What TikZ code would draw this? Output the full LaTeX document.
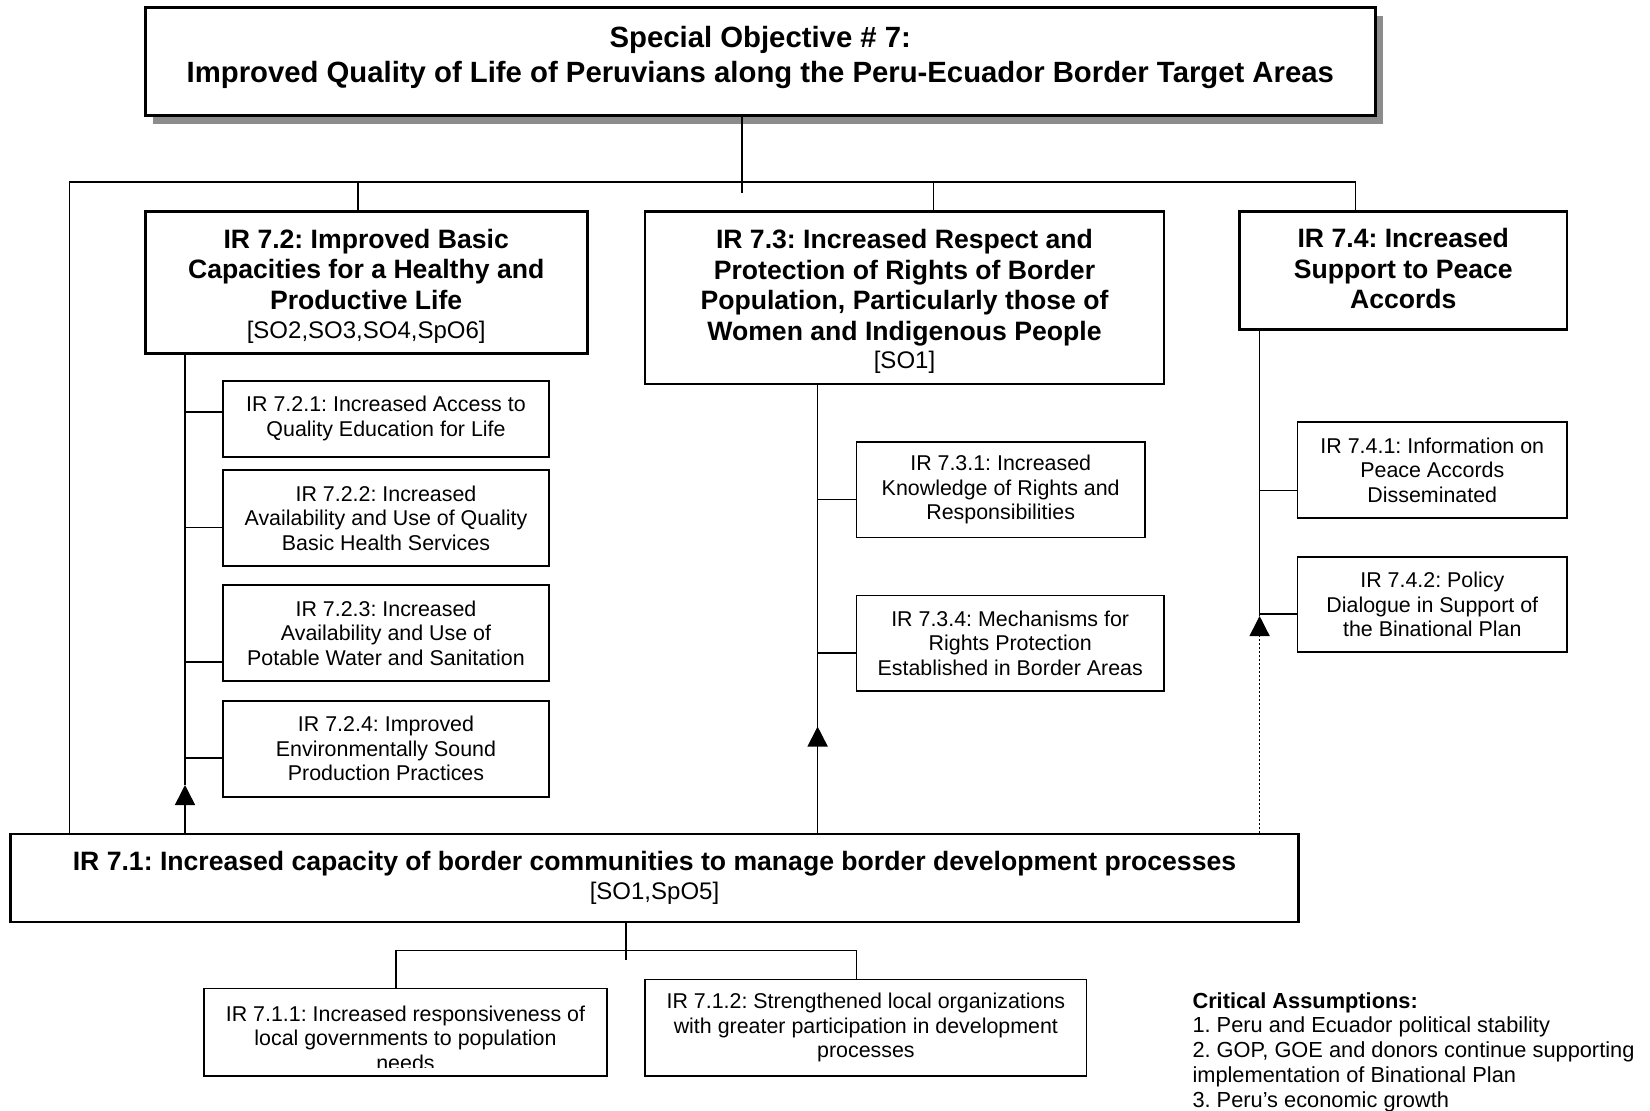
\documentclass[tikz,border=0pt]{standalone}
\usepackage{fontspec}
\setmainfont{Liberation Sans}
\usetikzlibrary{arrows.meta,shadows}
\frenchspacing

% type sizes used in the chart
\newcommand\titlefnt{\fontsize{29.3}{35}\selectfont\bfseries}
\newcommand\headfnt{\fontsize{26.6}{30.5}\selectfont\bfseries}
\newcommand\tagfnt{\fontsize{24}{28.5}\selectfont\mdseries}
\newcommand\subfnt{\fontsize{21.4}{24.5}\selectfont}
% invisible struts that move a centred text block down or up a little
\newcommand\lowerby[1]{\rule{0pt}{\dimexpr19pt+#1\relax}}
\newcommand\raiseby[1]{\rule[-#1]{0pt}{0pt}}

\begin{document}
\begin{tikzpicture}[x=1pt,y=-1pt,
  mainbox/.style={draw, line width=2.6pt, inner sep=0pt, align=center, font=\headfnt},
  subbox/.style={draw, line width=1.7pt, inner sep=0pt, align=center, font=\subfnt},
  link/.style={line width=1.6pt},
  uparrow/.style={line width=1.6pt, -{Triangle[width=20pt,length=20pt]}},
  dotlink/.style={line width=1.4pt, dash pattern=on 1.6pt off 2.4pt},
]
\useasboundingbox (0,0) rectangle (1650,1111);

% ---- strategic objective
\node[draw, line width=3pt, fill=white, minimum width=1230pt, minimum height=108pt,
      drop shadow={shadow xshift=8pt, shadow yshift=-8pt, fill=black!45, opacity=1}]
      (so7) at (760.3,61.6) {};
\node[font=\titlefnt, align=center, inner sep=0pt] (so7text) at (760.3,57.2)
  {Special Objective \# 7:\\Improved Quality of Life of Peruvians along the Peru-Ecuador Border Target Areas};

% ---- intermediate results, upper level
\node[mainbox, minimum width=442pt, minimum height=142pt] (b72) at (366.2,282.5)
  {\lowerby{8pt}IR 7.2: Improved Basic\\Capacities for a Healthy and\\Productive Life\\[-1pt]{\tagfnt [SO2,SO3,SO4,SpO6]}};
\node[mainbox, minimum width=518.7pt, minimum height=172.6pt] (b73) at (904.5,297.8)
  {\lowerby{8pt}IR 7.3: Increased Respect and\\Protection of Rights of Border\\Population, Particularly those of\\Women and Indigenous People\\[-2pt]{\tagfnt [SO1]}};
\node[mainbox, minimum width=327.3pt, minimum height=117.9pt] (b74) at (1403.3,270.5)
  {IR 7.4: Increased\\Support to Peace\\Accords\raiseby{4pt}};

% ---- sub-results of IR 7.2
\node[subbox, minimum width=326.6pt, minimum height=76pt] (b721) at (386,418.7)
  {IR 7.2.1: Increased Access to\\Quality Education for Life};
\node[subbox, minimum width=326.6pt, minimum height=96pt] (b722) at (386,518)
  {IR 7.2.2: Increased\\Availability and Use of Quality\\Basic Health Services};
\node[subbox, minimum width=326.6pt, minimum height=95.4pt] (b723) at (386,633)
  {IR 7.2.3: Increased\\Availability and Use of\\Potable Water and Sanitation};
\node[subbox, minimum width=326.6pt, minimum height=96pt] (b724) at (386,748.7)
  {IR 7.2.4: Improved\\Environmentally Sound\\Production Practices};

% ---- sub-results of IR 7.3
\node[subbox, minimum width=288.7pt, minimum height=95.3pt] (b731) at (1000.7,489.7)
  {IR 7.3.1: Increased\\Knowledge of Rights and\\Responsibilities};
\node[subbox, minimum width=307.7pt, minimum height=95.7pt] (b734) at (1010.2,643.2)
  {IR 7.3.4: Mechanisms for\\Rights Protection\\Established in Border Areas};

% ---- sub-results of IR 7.4
\node[subbox, minimum width=269.4pt, minimum height=95.7pt] (b741) at (1432.3,469.9)
  {IR 7.4.1: Information on\\Peace Accords\\Disseminated};
\node[subbox, minimum width=269.4pt, minimum height=95.6pt] (b742) at (1432.3,604.5)
  {IR 7.4.2: Policy\\Dialogue in Support of\\the Binational Plan};

% ---- IR 7.1 and its sub-results
\node[mainbox, minimum width=1287.7pt, minimum height=87.8pt] (b71) at (654.5,877.9)
  {IR 7.1: Increased capacity of border communities to manage border development processes\\[-2pt]{\tagfnt [SO1,SpO5]}};
\node[subbox, minimum width=403pt, minimum height=87.6pt] (b711) at (405.5,1032.4) {};
\begin{scope}
  \clip (b711.north west) rectangle (607,1067);
  \node[font=\subfnt, align=center, inner sep=0pt] (t711) at (405.5,1038)
    {IR 7.1.1: Increased responsiveness of\\local governments to population\\needs};
\end{scope}
\node[subbox, minimum width=441.3pt, minimum height=96.9pt] (b712) at (865.9,1027.8)
  {IR 7.1.2: Strengthened local organizations\\with greater participation in development\\processes};

% ---- assumptions
\node[anchor=north west, align=left, font=\fontsize{21.8}{24.9}\selectfont, inner sep=0pt] (ca) at (1192.3,992)
  {\textbf{Critical Assumptions:}\\1. Peru and Ecuador political stability\\2. GOP, GOE and donors continue supporting\\implementation of Binational Plan\\3. Peru's economic growth};

% ---- upper tree
\draw[link] (so7.south -| 742,0) -- (742,192.6);
\draw[link] (b71.north -| 69.5,0) -- (69.5,182) -- (1355.4,182) -- (b74.north -| 1355.4,0);
\draw[link] (357.8,182) -- (b72.north -| 357.8,0);
\draw[link] (933.4,182) -- (b73.north -| 933.4,0);

% ---- IR 7.2 spine
\draw[link] (b72.south -| 185,0) -- (185,785);
\draw[uparrow] (b71.north -| 185,0) -- (185,785);
\draw[link] (185,412) -- (b721.west |- 0,412);
\draw[link] (185,527.3) -- (b722.west |- 0,527.3);
\draw[link] (185,662) -- (b723.west |- 0,662);
\draw[link] (185,758) -- (b724.west |- 0,758);

% ---- IR 7.3 spine
\draw[link] (b73.south -| 817.6,0) -- (817.6,726.5);
\draw[uparrow] (b71.north -| 817.6,0) -- (817.6,726.5);
\draw[link] (817.6,499.3) -- (b731.west |- 0,499.3);
\draw[link] (817.6,652.7) -- (b734.west |- 0,652.7);

% ---- IR 7.4 spine (dotted link from IR 7.1)
\draw[link] (b74.south -| 1259.6,0) -- (1259.6,616);
\draw[dotlink, -{Triangle[width=20pt,length=20pt]}] (b71.north -| 1259.6,0) -- (1259.6,616);
\draw[link] (1259.6,490.4) -- (b741.west |- 0,490.4);
\draw[link] (1259.6,614) -- (b742.west |- 0,614);

% ---- lower tree
\draw[link] (b71.south -| 626,0) -- (626,960);
\draw[link] (b711.north -| 395.8,0) -- (395.8,950.5) -- (856.6,950.5) -- (b712.north -| 856.6,0);
\end{tikzpicture}
\end{document}
